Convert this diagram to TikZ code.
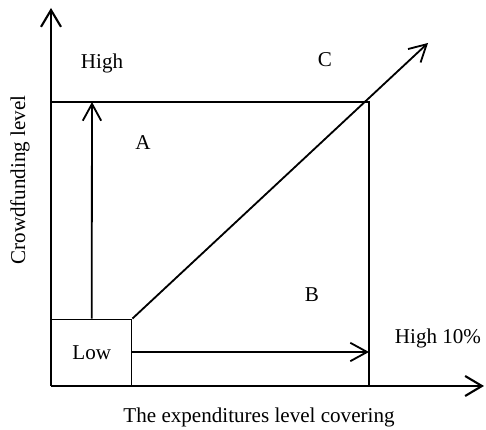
\documentclass[tikz,border=0pt]{standalone}
\usepackage{fontspec}
\setmainfont{Liberation Serif}
\usetikzlibrary{arrows.meta}

\begin{document}
\begin{tikzpicture}[
  every node/.style={font=\fontsize{15}{18}\selectfont},
  axis/.style={line width=1.5pt,-{Straight Barb[length=4.2mm,width=5mm,line width=1.5pt]}},
  flow/.style={line width=1.3pt,-{Straight Barb[length=4.2mm,width=4.6mm,line width=1.3pt]}},
  frame/.style={line width=1pt},
  lbl/.style={inner sep=1pt}
]

% ---- canvas ----
\useasboundingbox (0,0) rectangle (12.15,10.75);

% ---- axes ----
\coordinate (origin) at (1.275,1.1);
\coordinate (ytip) at (1.275,10.55);
\coordinate (xtip) at (12.1,1.1);
\draw[axis] (origin) -- (ytip);
\draw[axis] (origin) -- (xtip);

% ---- frame of the chart ----
\coordinate (topleft) at (1.275,8.2);
\coordinate (corner) at (9.225,8.2);
\coordinate (foot) at (9.225,1.1);
\draw[frame] (topleft) -- (corner) -- (foot);

% ---- low box ----
\node[draw,frame,minimum width=2cm,minimum height=1.65cm,anchor=south west,lbl]
  (low) at (origin) {Low};

% ---- arrows out of the low box ----
\coordinate (upend) at (2.3,8.2);
\coordinate (rightend) at (9.225,1.95);
\coordinate (diagend) at (10.7,9.675);
\draw[flow] (low.north) -- (upend);
\draw[flow] (low.east |- rightend) -- (rightend);
\draw[flow] (low.north east) -- (diagend);

% ---- labels ----
\node[lbl] (high) at (2.55,9.175) {High};
\node[lbl] (labA) at (3.575,7.175) {A};
\node[lbl] (labC) at (8.125,9.25) {C};
\node[lbl] (labB) at (7.8,3.375) {B};
\node[lbl] (high10) at (10.95,2.3) {High 10\%};
\node[lbl,rotate=90] (ylabel) at (0.5,6.25) {Crowdfunding level};
\node[lbl] (xlabel) at (6.475,0.325) {The expenditures level covering};

\end{tikzpicture}
\end{document}
